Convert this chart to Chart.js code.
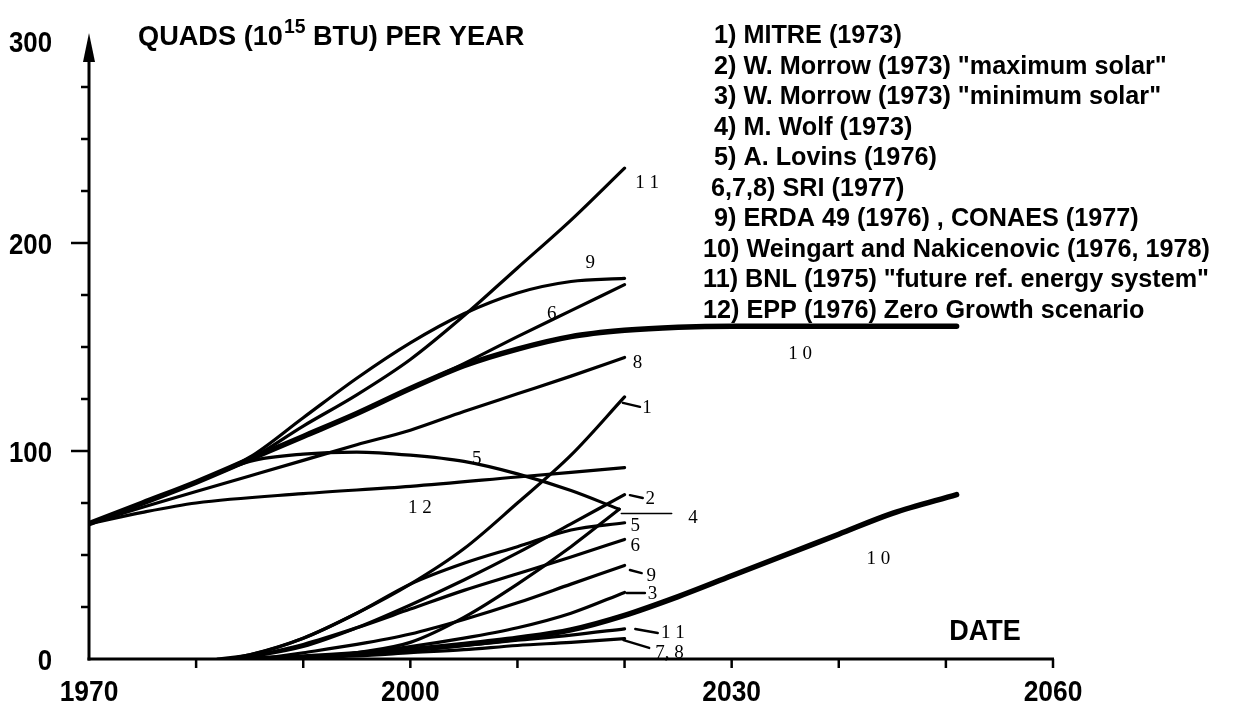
<!DOCTYPE html>
<html><head><meta charset="utf-8">
<script src="https://cdn.jsdelivr.net/npm/chart.js@4.4.1/dist/chart.umd.min.js"></script>
<style>html,body{margin:0;padding:0;background:#fff;overflow:hidden}#wrap{width:1238px;height:706px}</style>
</head><body><div id="wrap"><canvas id="c" width="1238" height="706"></canvas></div>
<script>
// ---------- axis definitions ----------
const X_MIN = 1970, X_MAX = 2060, Y_MIN = 0, Y_MAX = 300;
const xTickValues = [1980, 1990, 2000, 2010, 2020, 2030, 2040, 2050, 2060];
const xLabelValues = [1970, 2000, 2030, 2060];
const yMinorTicks = [25, 50, 75, 125, 150, 175, 225, 250, 275];
const yMajorTicks = [100, 200];
const yLabelValues = [0, 100, 200, 300];

// ---------- total energy curves (upper group) ----------
const u11X = [1970,1975,1980,1985,1990,1995,2000,2005,2010,2015,2020];
const u11Y = [65,75,85,96,112,127,144,165,188,211,236];
const u9X  = [1970,1975,1980,1985,1990,1995,2000,2005,2010,2015,2020];
const u9Y  = [65,75,85,97,116,135,152,166,176,181.5,183];
const u10X = [1970,1975,1980,1985,1990,1995,2000,2005,2010,2015,2020,2025,2030,2040,2051];
const u10Y = [65,75,85,96,107,118,130,141,149,155,158,159.5,160,160,160];
const u6X  = [1970,1975,1980,1985,1990,1995,2000,2005,2010,2015,2020];
const u6Y  = [65,75,85,96,107,118,130,142,155,167.5,180];
const u8X  = [1970,1975,1980,1985,1990,1995,2000,2005,2010,2015,2020];
const u8Y  = [65,73,80.5,88,95.5,103,110,119,127.5,136,145];
const u5X  = [1970,1975,1980,1985,1990,1995,2000,2005,2010,2015,2019.5];
const u5Y  = [65,75,85,95,98.5,99.5,98,95,89,81,72];
const u12X = [1970,1975,1980,1990,2000,2010,2020];
const u12Y = [65,70.5,75,79.5,83,87.5,92];
const w4X  = [2019.7,2024.4];
const w4Y  = [70,70];

// ---------- solar contribution curves (lower group) ----------
const l1X  = [1982,1985,1990,1995,2000,2005,2010,2015,2020];
const l1Y  = [0,2,10,22,36,53,75,98,126];
const l2X  = [1984,1990,1995,2000,2005,2010,2015,2020];
const l2Y  = [0,6,15,26,38,51,65,79];
const l4X  = [1990,1995,2000,2005,2010,2015,2019.5];
const l4Y  = [0,3,8,20,36,54,72];
const l5X  = [1983,1985,1990,1995,2000,2005,2010,2015,2020];
const l5Y  = [0,2,10,22,36,46,54,62,65.5];
const l6X  = [1984,1990,1995,2000,2005,2010,2015,2020];
const l6Y  = [0,7,15,24,33,41,49,57.5];
const l9X  = [1986,1990,1995,2000,2005,2010,2015,2020];
const l9Y  = [0,3,7,12,19,27,36,45];
const l3X  = [1988,1995,2000,2005,2010,2015,2020];
const l3Y  = [0,3,6,10,15,22,32];
const l10X = [1985,1990,1995,2000,2005,2010,2015,2020,2025,2030,2035,2040,2045,2051];
const l10Y = [0,1,2.5,4.5,7,10,14,21,30,40,50,60,70,79];
const l11X = [1986,1995,2000,2005,2010,2015,2020];
const l11Y = [0,2,4,6.5,9,11.5,14.5];
const l78X = [1986,1995,2000,2005,2010,2015,2020];
const l78Y = [0,1.5,3,4.5,6.5,8,9.8];

// ---------- curve labels (data units) ----------
const curveLabelText = ['1 1','9','6','8','1 0','1','5','1 2','4','2','5','6','9','3','1 1','7, 8','1 0'];
const curveLabelX    = [2022.1,2016.8,2013.2,2021.2,2036.4,2022.1,2006.2,2000.9,2026.4,2022.4,2021.0,2021.0,2022.5,2022.6,2024.5,2024.2,2043.7];
const curveLabelY    = [229.3,190.9,166.3,142.8,147.1,121.2,96.6,73.1,68.3,77.4,64.4,54.8,40.4,31.7,13.0,3.4,48.6];
// leader dashes from curve ends to labels (data units)
const leaderX1 = [2019.85,2020.5,2020.5,2020.2,2021.0,2019.9];
const leaderY1 = [123.1,78.8,42.8,31.7,14.4,9.1];
const leaderX2 = [2021.44,2021.7,2021.6,2021.9,2023.1,2022.3];
const leaderY2 = [121.2,77.4,41.3,31.7,12.5,5.3];

// ---------- texts ----------
const legendLines = [
  '1) MITRE (1973)',
  '2) W. Morrow (1973) "maximum solar"',
  '3) W. Morrow (1973) "minimum solar"',
  '4) M. Wolf (1973)',
  '5) A. Lovins (1976)',
  '6,7,8) SRI (1977)',
  '9) ERDA 49 (1976) , CONAES (1977)',
  '10) Weingart and Nakicenovic (1976, 1978)',
  '11) BNL (1975) "future ref. energy system"',
  '12) EPP (1976) Zero Growth scenario'
];
const titleParts = ['QUADS (10', '15', ' BTU) PER YEAR'];
const xAxisTitle = 'DATE';

// ---------- build datasets ----------
function pts(xs, ys){ return xs.map((v,i)=>({x:v, y:ys[i]})); }
function ds(xs, ys, w){
  return {data: pts(xs, ys), borderColor:'#000', borderWidth:w, pointRadius:0,
          cubicInterpolationMode:'monotone', borderCapStyle:'round', borderJoinStyle:'round', fill:false};
}
const datasets = [
  ds(u11X,u11Y,3.2), ds(u9X,u9Y,3.2), ds(u10X,u10Y,5.5), ds(u6X,u6Y,3.2), ds(u8X,u8Y,3.2),
  ds(u5X,u5Y,3.2), ds(u12X,u12Y,3.2), ds(w4X,w4Y,1.5),
  ds(l1X,l1Y,3.2), ds(l2X,l2Y,3.2), ds(l4X,l4Y,3.2), ds(l5X,l5Y,3.2), ds(l6X,l6Y,3.2),
  ds(l9X,l9Y,3.2), ds(l3X,l3Y,3.2), ds(l10X,l10Y,5.5), ds(l11X,l11Y,3.2), ds(l78X,l78Y,3.2)
];

// ---------- text helper (horizontally condensed text) ----------
function drawText(ctx, s, x, yCenter, size, weight, family, align, sx, capRatio){
  ctx.save();
  ctx.font = weight + ' ' + size + 'px ' + family;
  ctx.textBaseline = 'alphabetic';
  ctx.textAlign = 'left';
  const w = ctx.measureText(s).width * sx;
  let left = x;
  if (align === 'center') left = x - w/2; else if (align === 'right') left = x - w;
  ctx.translate(left, yCenter + size*capRatio/2);
  ctx.scale(sx, 1);
  ctx.fillStyle = '#000';
  ctx.fillText(s, 0, 0);
  ctx.restore();
  return w;
}
const SANS = '"Liberation Sans", Arial, sans-serif';
const SERIF = '"Liberation Serif", "Times New Roman", serif';

const axesPlugin = {
  id: 'customAxes',
  beforeDatasetsDraw(chart){
    const {ctx, scales:{x, y}} = chart;
    const x0 = x.getPixelForValue(X_MIN), xe = x.getPixelForValue(X_MAX);
    const y0 = y.getPixelForValue(Y_MIN), yt = y.getPixelForValue(Y_MAX);
    ctx.save();
    ctx.strokeStyle = '#000'; ctx.fillStyle = '#000'; ctx.lineWidth = 3;
    ctx.beginPath(); ctx.moveTo(x0, y0 + 1.5); ctx.lineTo(x0, yt + 20); ctx.stroke();
    ctx.beginPath(); ctx.moveTo(x0, yt - 2); ctx.lineTo(x0 - 6, yt + 27); ctx.lineTo(x0 + 6, yt + 27); ctx.closePath(); ctx.fill();
    ctx.beginPath(); ctx.moveTo(x0 - 1.5, y0); ctx.lineTo(xe + 1, y0); ctx.stroke();
    ctx.lineWidth = 2.5;
    yMinorTicks.forEach(v => { const p = y.getPixelForValue(v); ctx.beginPath(); ctx.moveTo(x0, p); ctx.lineTo(x0 - 8, p); ctx.stroke(); });
    yMajorTicks.forEach(v => { const p = y.getPixelForValue(v); ctx.beginPath(); ctx.moveTo(x0, p); ctx.lineTo(x0 - 18, p); ctx.stroke(); });
    xTickValues.forEach(v => { const p = x.getPixelForValue(v); ctx.beginPath(); ctx.moveTo(p, y0); ctx.lineTo(p, y0 + 9); ctx.stroke(); });
    ctx.restore();
    yLabelValues.forEach(v => drawText(ctx, String(v), x0 - 37, y.getPixelForValue(v) + (v === Y_MAX ? 6 : 0), 30, 'bold', SANS, 'right', 0.86, 0.72));
    xLabelValues.forEach(v => drawText(ctx, String(v), x.getPixelForValue(v), y0 + 31, 30, 'bold', SANS, 'center', 0.88, 0.72));
  },
  afterDatasetsDraw(chart){
    const {ctx, scales:{x, y}} = chart;
    ctx.save(); ctx.strokeStyle = '#000'; ctx.lineWidth = 2.4; ctx.lineCap = 'round';
    leaderX1.forEach((v,i) => {
      ctx.beginPath();
      ctx.moveTo(x.getPixelForValue(v), y.getPixelForValue(leaderY1[i]));
      ctx.lineTo(x.getPixelForValue(leaderX2[i]), y.getPixelForValue(leaderY2[i]));
      ctx.stroke();
    });
    ctx.restore();
    curveLabelText.forEach((t,i) => drawText(ctx, t, x.getPixelForValue(curveLabelX[i]), y.getPixelForValue(curveLabelY[i]), 19, 'normal', SERIF, 'center', 1, 0.66));
    let tx = 138; const ty = 35;
    tx += drawText(ctx, titleParts[0], tx, ty, 28, 'bold', SANS, 'left', 0.97, 0.72);
    tx += 1 + drawText(ctx, titleParts[1], tx + 1, ty - 9, 20, 'bold', SANS, 'left', 0.97, 0.72);
    drawText(ctx, titleParts[2], tx, ty, 28, 'bold', SANS, 'left', 0.97, 0.72);
    legendLines.forEach((s,i) => {
      const left = i >= 7 ? 703 : (i === 5 ? 711 : 714);
      drawText(ctx, s, left, 34 + i*30.5, 26, 'bold', SANS, 'left', 0.97, 0.72);
    });
    drawText(ctx, xAxisTitle, 985, 629, 30, 'bold', SANS, 'center', 0.9, 0.72);
  }
};

new Chart(document.getElementById('c'), {
  type: 'line',
  data: { datasets },
  options: {
    responsive: false, animation: false, devicePixelRatio: 1,
    layout: { padding: { left: 89, right: 185, top: 35, bottom: 47 } },
    plugins: { legend: { display: false }, tooltip: { enabled: false } },
    scales: {
      x: { type: 'linear', min: X_MIN, max: X_MAX, display: false },
      y: { type: 'linear', min: Y_MIN, max: Y_MAX, display: false }
    }
  },
  plugins: [axesPlugin]
});
</script></body></html>
